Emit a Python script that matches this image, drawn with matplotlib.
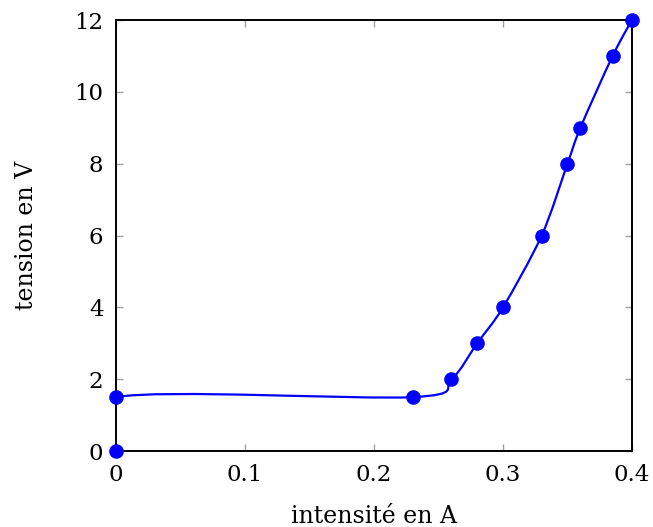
import numpy as np
import matplotlib
matplotlib.use("Agg")
import matplotlib.pyplot as plt
from matplotlib.path import Path
from matplotlib.patches import PathPatch

# mesures (intensite en A, tension en V)
intensite = [0.0, 0.0, 0.23, 0.26, 0.28, 0.30, 0.33, 0.35, 0.36, 0.385, 0.40]
tension = [0.0, 1.5, 1.5, 2.0, 3.0, 4.0, 6.0, 8.0, 9.0, 11.0, 12.0]

x_ticks = [0, 0.1, 0.2, 0.3, 0.4]
x_ticklabels = ["0", "0.1", "0.2", "0.3", "0.4"]
y_ticks = [0, 2, 4, 6, 8, 10, 12]


def smooth_path(xs, ys, f=0.2775 * 0.55):
    """courbe lissee a la maniere de tikz (smooth, tension 0.55)"""
    p = np.column_stack([xs, ys]).astype(float)
    n = len(p)
    verts = [p[0]]
    codes = [Path.MOVETO]
    for i in range(n - 1):
        if i == 0:
            c1 = p[0]
        else:
            c1 = p[i] + f * (p[i + 1] - p[i - 1])
        if i + 1 == n - 1:
            c2 = p[n - 1]
        else:
            c2 = p[i + 1] - f * (p[i + 2] - p[i])
        verts += [c1, c2, p[i + 1]]
        codes += [Path.CURVE4] * 3
    return Path(verts, codes)


plt.rcParams['font.family'] = ['DejaVu Serif']
plt.rcParams['font.size'] = 17

fig = plt.figure(figsize=(6.53, 5.27), dpi=100)
ax = fig.add_axes([0.1776, 0.1442, 0.7902, 0.8178])

patch = PathPatch(smooth_path(intensite, tension), facecolor='none',
                  edgecolor='blue', lw=1.6)
ax.add_patch(patch)
ax.plot(intensite, tension, 'o', color='blue', markersize=9.5, clip_on=False, zorder=5)

ax.set_xlim(0, 0.4)
ax.set_ylim(0, 12)
ax.set_xticks(x_ticks)
ax.set_xticklabels(x_ticklabels)
ax.set_yticks(y_ticks)
ax.tick_params(direction='in', top=True, right=True, length=5, width=1,
               color='#a0a0a0', labelsize=16.5, pad=9)
for s in ax.spines.values():
    s.set_linewidth(1.4)

ax.set_xlabel("intensité en A", labelpad=14)
ax.set_ylabel("tension en V", labelpad=26)

fig.savefig("out.png", dpi=100)
